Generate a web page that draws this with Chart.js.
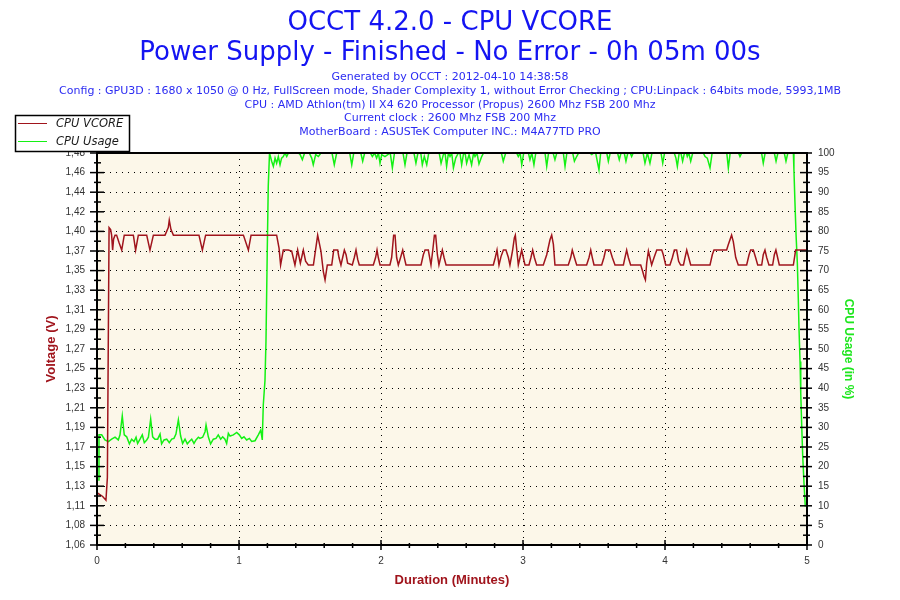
<!DOCTYPE html>
<html>
<head>
<meta charset="utf-8">
<title>OCCT 4.2.0 - CPU VCORE</title>
<script src="https://cdn.jsdelivr.net/npm/chart.js@4.4.0/dist/chart.umd.min.js"></script>
<style>
  html, body { margin: 0; padding: 0; background: #fff; }
  #wrap { width: 900px; height: 600px; }
</style>
</head>
<body>
<div id="wrap"><canvas id="vcore-chart" width="900" height="600"></canvas></div>
<script>
const titleLines = ['OCCT 4.2.0 - CPU VCORE', 'Power Supply - Finished - No Error - 0h 05m 00s'];
const infoLines = [
  'Generated by OCCT : 2012-04-10 14:38:58',
  'Config : GPU3D : 1680 x 1050 @ 0 Hz, FullScreen mode, Shader Complexity 1, without Error Checking ; CPU:Linpack : 64bits mode, 5993,1MB',
  'CPU : AMD Athlon(tm) II X4 620 Processor (Propus) 2600 Mhz FSB 200 Mhz',
  'Current clock : 2600 Mhz FSB 200 Mhz',
  'MotherBoard : ASUSTeK Computer INC.: M4A77TD PRO'
];

// left axis labels, bottom to top (OCCT prints them rounded)
const voltTicks = ['1,06', '1,08', '1,11', '1,13', '1,15', '1,17', '1,19', '1,21', '1,23', '1,25', '1,27',
  '1,29', '1,31', '1,33', '1,35', '1,37', '1,40', '1,42', '1,44', '1,46', '1,48'];
const V_MIN = 1.06;
const V_MAX = 1.48;

// CPU VCORE, time in minutes / volts
const vcoreTimes = [
  0.000, 0.040, 0.063, 0.073, 0.085, 0.096, 0.103, 0.110, 0.117, 0.127,
  0.138, 0.155, 0.174, 0.192, 0.256, 0.272, 0.291, 0.350, 0.373, 0.397,
  0.479, 0.502, 0.509, 0.521, 0.538, 0.718, 0.742, 0.765, 1.031, 1.066,
  1.085, 1.265, 1.282, 1.293, 1.312, 1.347, 1.371, 1.394, 1.413, 1.432,
  1.453, 1.469, 1.488, 1.524, 1.554, 1.577, 1.594, 1.606, 1.622, 1.653,
  1.667, 1.695, 1.704, 1.718, 1.730, 1.742, 1.754, 1.765, 1.798, 1.812,
  1.824, 1.836, 1.847, 1.946, 1.962, 1.972, 1.981, 1.993, 2.063, 2.075,
  2.089, 2.099, 2.110, 2.122, 2.138, 2.153, 2.164, 2.176, 2.282, 2.298,
  2.310, 2.333, 2.352, 2.364, 2.376, 2.385, 2.397, 2.408, 2.420, 2.432,
  2.444, 2.458, 2.791, 2.805, 2.817, 2.831, 2.845, 2.862, 2.880, 2.897,
  2.908, 2.927, 2.939, 2.946, 2.955, 2.967, 2.979, 2.991, 3.002, 3.014,
  3.042, 3.056, 3.068, 3.080, 3.096, 3.143, 3.167, 3.190, 3.202, 3.214,
  3.225, 3.319, 3.336, 3.347, 3.362, 3.378, 3.448, 3.465, 3.477, 3.488,
  3.500, 3.554, 3.570, 3.582, 3.613, 3.629, 3.648, 3.707, 3.718, 3.730,
  3.742, 3.758, 3.829, 3.843, 3.852, 3.862, 3.871, 3.883, 3.894, 3.906,
  3.923, 3.942, 3.977, 3.988, 4.005, 4.035, 4.052, 4.066, 4.082, 4.096,
  4.110, 4.130, 4.141, 4.153, 4.167, 4.181, 4.317, 4.333, 4.345, 4.434,
  4.446, 4.469, 4.481, 4.498, 4.516, 4.575, 4.592, 4.603, 4.622, 4.638,
  4.653, 4.681, 4.692, 4.704, 4.716, 4.732, 4.758, 4.770, 4.781, 4.793,
  4.805, 4.904, 4.920, 5.000
];
const vcoreVolts = [
  1.116, 1.112, 1.108, 1.132, 1.400, 1.398, 1.392, 1.376, 1.388, 1.392,
  1.392, 1.384, 1.376, 1.392, 1.392, 1.376, 1.392, 1.392, 1.376, 1.392,
  1.392, 1.400, 1.408, 1.398, 1.392, 1.392, 1.376, 1.392, 1.392, 1.376,
  1.392, 1.392, 1.378, 1.360, 1.376, 1.376, 1.375, 1.360, 1.376, 1.362,
  1.376, 1.364, 1.360, 1.360, 1.392, 1.375, 1.353, 1.344, 1.360, 1.360,
  1.376, 1.376, 1.368, 1.360, 1.368, 1.376, 1.371, 1.362, 1.360, 1.368,
  1.376, 1.366, 1.360, 1.360, 1.368, 1.376, 1.368, 1.360, 1.360, 1.368,
  1.392, 1.392, 1.368, 1.360, 1.368, 1.376, 1.368, 1.360, 1.360, 1.371,
  1.376, 1.376, 1.360, 1.375, 1.392, 1.392, 1.371, 1.360, 1.368, 1.376,
  1.368, 1.360, 1.360, 1.368, 1.376, 1.360, 1.369, 1.376, 1.376, 1.368,
  1.360, 1.376, 1.389, 1.392, 1.378, 1.360, 1.368, 1.376, 1.368, 1.360,
  1.360, 1.368, 1.376, 1.368, 1.360, 1.360, 1.371, 1.387, 1.392, 1.382,
  1.360, 1.360, 1.368, 1.376, 1.368, 1.360, 1.360, 1.368, 1.376, 1.368,
  1.360, 1.360, 1.368, 1.376, 1.376, 1.368, 1.360, 1.360, 1.368, 1.376,
  1.368, 1.360, 1.360, 1.353, 1.348, 1.344, 1.362, 1.375, 1.368, 1.360,
  1.368, 1.376, 1.376, 1.371, 1.360, 1.360, 1.368, 1.376, 1.376, 1.364,
  1.360, 1.360, 1.368, 1.376, 1.368, 1.360, 1.360, 1.371, 1.376, 1.376,
  1.382, 1.392, 1.385, 1.368, 1.360, 1.360, 1.371, 1.376, 1.376, 1.368,
  1.360, 1.360, 1.371, 1.376, 1.368, 1.360, 1.360, 1.371, 1.376, 1.368,
  1.360, 1.360, 1.376, 1.376
];

// CPU Usage, time in minutes / percent
const usageTimes = [
  0.008, 0.014, 0.033, 0.056, 0.080, 0.103, 0.127, 0.150, 0.162, 0.178,
  0.192, 0.209, 0.228, 0.244, 0.261, 0.275, 0.286, 0.303, 0.319, 0.333,
  0.350, 0.362, 0.378, 0.392, 0.408, 0.427, 0.444, 0.455, 0.472, 0.491,
  0.509, 0.526, 0.542, 0.556, 0.573, 0.589, 0.603, 0.620, 0.636, 0.650,
  0.667, 0.683, 0.697, 0.714, 0.725, 0.744, 0.761, 0.768, 0.784, 0.800,
  0.819, 0.838, 0.854, 0.871, 0.885, 0.901, 0.913, 0.925, 0.937, 0.960,
  0.984, 1.002, 1.019, 1.035, 1.054, 1.073, 1.089, 1.113, 1.136, 1.153,
  1.164, 1.171, 1.183, 1.190, 1.199, 1.206, 1.215, 1.230, 1.242, 1.254,
  1.265, 1.277, 1.289, 1.300, 1.312, 1.324, 1.336, 1.348, 1.418, 1.430,
  1.446, 1.462, 1.495, 1.512, 1.523, 1.540, 1.559, 1.577, 1.655, 1.671,
  1.688, 1.780, 1.794, 1.808, 1.858, 1.871, 1.885, 1.925, 1.939, 1.955,
  1.969, 1.982, 1.993, 2.005, 2.028, 2.065, 2.080, 2.095, 2.155, 2.169,
  2.183, 2.232, 2.246, 2.260, 2.280, 2.291, 2.305, 2.322, 2.336, 2.410,
  2.423, 2.439, 2.451, 2.462, 2.475, 2.486, 2.498, 2.510, 2.526, 2.545,
  2.556, 2.568, 2.580, 2.592, 2.603, 2.620, 2.638, 2.652, 2.662, 2.676,
  2.690, 2.709, 2.722, 2.848, 2.861, 2.878, 2.955, 2.967, 2.980, 2.991,
  3.005, 3.038, 3.049, 3.062, 3.077, 3.090, 3.155, 3.167, 3.180, 3.212,
  3.225, 3.238, 3.284, 3.296, 3.309, 3.350, 3.362, 3.378, 3.392, 3.470,
  3.484, 3.498, 3.512, 3.523, 3.535, 3.547, 3.590, 3.601, 3.614, 3.666,
  3.678, 3.690, 3.713, 3.725, 3.738, 3.755, 3.765, 3.776, 3.846, 3.859,
  3.876, 3.894, 3.908, 3.972, 3.984, 3.997, 4.065, 4.077, 4.087, 4.100,
  4.112, 4.124, 4.137, 4.150, 4.157, 4.168, 4.181, 4.195, 4.270, 4.282,
  4.298, 4.317, 4.332, 4.435, 4.446, 4.459, 4.518, 4.528, 4.540, 4.680,
  4.692, 4.705, 4.770, 4.782, 4.795, 4.840, 4.852, 4.865, 4.904, 4.908,
  4.915, 4.923, 4.932, 4.939, 4.944, 4.951, 4.956, 4.963, 4.970, 4.979,
  4.988
];
const usageValues = [
  16.6, 28.1, 28.1, 26.8, 26.4, 27.0, 27.5, 26.8, 28.1, 32.9,
  28.1, 27.6, 25.8, 27.0, 26.4, 27.5, 25.9, 27.0, 28.1, 26.1,
  26.8, 27.5, 32.1, 27.6, 27.0, 27.0, 28.3, 25.8, 26.8, 27.0,
  26.1, 27.0, 27.2, 28.3, 31.9, 27.8, 25.9, 27.0, 25.8, 26.4,
  27.0, 25.9, 26.8, 27.5, 27.2, 27.5, 28.9, 30.6, 27.6, 25.8,
  27.0, 27.2, 28.1, 27.0, 27.6, 27.0, 25.9, 28.5, 27.8, 28.1,
  28.7, 28.1, 27.2, 27.6, 26.8, 27.2, 26.4, 26.6, 28.1, 29.3,
  26.8, 35.7, 42.0, 52.0, 75.0, 91.5, 100, 97.9, 96.6, 98.7,
  97.4, 99.1, 97.0, 98.7, 99.1, 100, 99.1, 100, 100, 99.6,
  98.3, 100, 100, 98.7, 97.0, 99.6, 99.1, 100, 100, 97.0,
  100, 100, 97.0, 100, 100, 97.9, 100, 100, 99.1, 100,
  98.7, 100, 97.4, 99.6, 99.1, 100, 96.2, 100, 100, 97.0,
  100, 100, 97.4, 100, 100, 97.0, 99.1, 97.0, 100, 100,
  97.4, 99.6, 100, 96.6, 100, 99.1, 100, 96.2, 98.7, 100,
  100, 97.0, 99.6, 100, 97.4, 99.6, 97.0, 100, 99.1, 100,
  97.2, 99.1, 100, 100, 97.9, 100, 100, 99.1, 100, 97.0,
  100, 100, 98.3, 100, 97.0, 100, 100, 96.6, 100, 100,
  98.3, 100, 100, 96.6, 100, 100, 97.9, 99.1, 100, 100,
  99.6, 100, 100, 97.9, 95.7, 100, 100, 97.9, 100, 100,
  98.3, 100, 100, 97.9, 100, 100, 99.1, 100, 100, 97.4,
  100, 97.4, 100, 100, 97.4, 100, 100, 98.7, 96.6, 100,
  100, 97.9, 100, 100, 99.1, 100, 97.9, 100, 100, 99.1,
  98.7, 96.2, 100, 100, 96.2, 100, 100, 99.1, 100, 100,
  97.4, 100, 100, 97.9, 100, 100, 97.9, 100, 100, 95.7,
  87.6, 79.1, 71.9, 62.5, 54.8, 46.8, 38.7, 30.2, 22.5, 15.7,
  9.8
];

const VCORE_COLOR = '#A0141C';
const USAGE_COLOR = '#14F014';
const PLOT_BG = '#FCF7E9';

Chart.defaults.font.family = '"Liberation Sans", Arial, sans-serif';

const tickFont = { family: '"Liberation Sans", Arial, sans-serif', size: 10 };
const tickColor = '#333';
const hiddenEnds = (n) => (ctx) => (ctx.index === 0 || ctx.index === n - 1) ? 'rgba(0,0,0,0)' : '#000';

// frame, minor/major tick marks, header text and the boxed legend
const occtDecor = {
  id: 'occtDecor',
  beforeDraw(chart) {
    const { ctx, chartArea: a } = chart;
    ctx.save();
    ctx.fillStyle = '#fff';
    ctx.fillRect(0, 0, chart.width, chart.height);
    ctx.fillStyle = PLOT_BG;
    ctx.fillRect(a.left, a.top, a.right - a.left, a.bottom - a.top);

    ctx.textAlign = 'center';
    ctx.textBaseline = 'alphabetic';
    ctx.fillStyle = '#1414F2';
    ctx.font = '26px "DejaVu Sans"';
    titleLines.forEach((t, i) => ctx.fillText(t, chart.width / 2, 30 + i * 30));
    ctx.fillStyle = '#2B2BF2';
    ctx.font = '11px "DejaVu Sans"';
    infoLines.forEach((t, i) => ctx.fillText(t, chart.width / 2, 80 + i * 13.8));
    ctx.restore();
  },
  afterDatasetsDraw(chart) {
    const { ctx, chartArea: a, scales } = chart;
    ctx.save();
    ctx.strokeStyle = '#000';
    ctx.lineWidth = 2;
    ctx.strokeRect(a.left, a.top, a.right - a.left, a.bottom - a.top);

    ctx.lineWidth = 1.5;
    const hLine = (y, x1, x2) => { ctx.beginPath(); ctx.moveTo(x1, y); ctx.lineTo(x2, y); ctx.stroke(); };
    const vLine = (x, y1, y2) => { ctx.beginPath(); ctx.moveTo(x, y1); ctx.lineTo(x, y2); ctx.stroke(); };

    const yv = scales.y;
    yv.ticks.forEach((t, i) => {
      const y = yv.getPixelForValue(t.value);
      hLine(y, a.left - 7, a.left + 7);
      if (i < yv.ticks.length - 1) {
        const ym = yv.getPixelForValue((t.value + yv.ticks[i + 1].value) / 2);
        hLine(ym, a.left - 3, a.left + 4);
      }
    });

    const yp = scales.y2;
    yp.ticks.forEach((t, i) => {
      hLine(yp.getPixelForValue(t.value), a.right - 7, a.right + 5);
      if (i < yp.ticks.length - 1) {
        hLine(yp.getPixelForValue(t.value + 2.5), a.right - 4, a.right + 3);
      }
    });

    const xs = scales.x;
    for (let m = 0; m <= 25; m++) {
      const x = xs.getPixelForValue(m / 5);
      if (m % 5 === 0) vLine(x, a.bottom - 5, a.bottom + 5);
      else vLine(x, a.bottom - 2, a.bottom + 3);
    }
    ctx.restore();
  },
  afterDraw(chart) {
    const { ctx } = chart;
    ctx.save();
    ctx.fillStyle = '#fff';
    ctx.fillRect(15.5, 115.5, 114, 36);
    ctx.strokeStyle = '#000';
    ctx.lineWidth = 1.5;
    ctx.strokeRect(15.5, 115.5, 114, 36);
    ctx.font = 'italic 11.5px "DejaVu Sans"';
    ctx.textAlign = 'left';
    ctx.textBaseline = 'middle';
    chart.data.datasets.forEach((ds, i) => {
      const y = 123 + i * 18;
      ctx.strokeStyle = ds.borderColor;
      ctx.lineWidth = 1;
      ctx.beginPath();
      ctx.moveTo(18, y + 0.5);
      ctx.lineTo(47, y + 0.5);
      ctx.stroke();
      ctx.fillStyle = '#1a1a1a';
      ctx.fillText(ds.label, 56, y + 1);
    });
    ctx.restore();
  }
};

const ctx = document.getElementById('vcore-chart').getContext('2d');

const vcoreChart = new Chart(ctx, {
  type: 'line',
  data: {
    datasets: [{
      label: 'CPU VCORE',
      data: vcoreTimes.map((t, i) => ({ x: t, y: vcoreVolts[i] })),
      borderColor: VCORE_COLOR,
      borderWidth: 1.5,
      yAxisID: 'y'
    }, {
      label: 'CPU Usage',
      data: usageTimes.map((t, i) => ({ x: t, y: usageValues[i] })),
      borderColor: USAGE_COLOR,
      borderWidth: 1.5,
      yAxisID: 'y2'
    }]
  },
  options: {
    responsive: false,
    animation: false,
    layout: { padding: { top: 153, left: 0, right: 0, bottom: 0 } },
    elements: { point: { radius: 0 }, line: { tension: 0 } },
    plugins: {
      legend: { display: false },
      title: { display: false },
      tooltip: { enabled: false }
    },
    scales: {
      x: {
        type: 'linear',
        min: 0,
        max: 5,
        afterFit: (s) => { s.height = 55; },
        ticks: { stepSize: 1, padding: 10, color: tickColor, font: tickFont },
        grid: { drawTicks: false, lineWidth: 1, color: hiddenEnds(6) },
        border: { display: true, color: '#000', width: 2, dash: [1, 5] },
        title: {
          display: true,
          text: 'Duration (Minutes)',
          color: VCORE_COLOR,
          font: { size: 13, weight: 'bold' },
          padding: { top: 0, bottom: 12 }
        }
      },
      y: {
        position: 'left',
        min: V_MIN,
        max: V_MAX,
        afterBuildTicks: (s) => {
          s.ticks = voltTicks.map((_, i) => ({ value: V_MIN + i * (V_MAX - V_MIN) / (voltTicks.length - 1) }));
        },
        afterFit: (s) => { s.width = 97; },
        ticks: {
          autoSkip: false,
          padding: 12,
          color: tickColor,
          font: tickFont,
          callback: (v, i) => voltTicks[i]
        },
        grid: { drawTicks: false, lineWidth: 1, color: hiddenEnds(voltTicks.length) },
        border: { display: true, color: '#000', width: 2, dash: [1, 5] },
        title: {
          display: true,
          text: 'Voltage (V)',
          color: VCORE_COLOR,
          font: { size: 13, weight: 'bold' },
          padding: { top: 44, bottom: 0 }
        }
      },
      y2: {
        position: 'right',
        min: 0,
        max: 100,
        afterFit: (s) => { s.width = 93; },
        ticks: { stepSize: 5, autoSkip: false, padding: 11, color: tickColor, font: tickFont },
        grid: { drawOnChartArea: false, drawTicks: false },
        border: { display: true, color: '#000', width: 2 },
        title: {
          display: true,
          text: 'CPU Usage (in %)',
          color: '#1EE61E',
          font: { size: 12, weight: 'bold' },
          padding: { top: 44, bottom: 0 }
        }
      }
    }
  },
  plugins: [occtDecor]
});
</script>
</body>
</html>
